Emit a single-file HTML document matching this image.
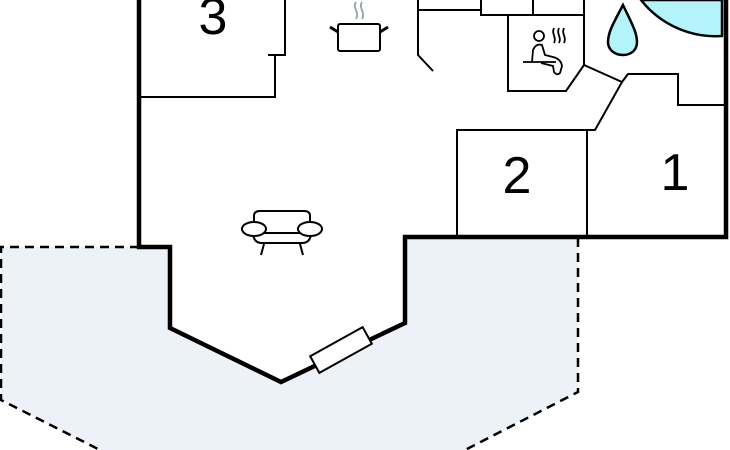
<!DOCTYPE html>
<html><head><style>html,body{margin:0;padding:0;background:#fff}svg{display:block}</style></head>
<body>
<svg width="730" height="450" viewBox="0 0 730 450" xmlns="http://www.w3.org/2000/svg">
<!-- terrace -->
<polygon points="1,247 139,247 170,247 170,328 281,382 405,323 405,237 578,237 578,392 465,450 100,450 1,400" fill="#edf1f8"/>
<polygon points="139,247 170,247 170,328 281,382 405,323 405,237 726,237 726,0 139,0" fill="#fff"/>
<path d="M139,247 L1,247 L1,400 L100,450 M578,238 L578,392 L465,450" fill="none" stroke="#000" stroke-width="2.5" stroke-dasharray="9,6"/>
<!-- pool -->
<path d="M641,0 A95,95 0 0 0 722,36 L722,0 Z" fill="#b3f3fa" stroke="#000" stroke-width="2.5"/>
<path d="M623,5 C614,22 608,32 608,42 C608,50 615,55 623,55 C631,55 637,50 637,42 C637,32 631,22 623,5 Z" fill="#b3f3fa" stroke="#000" stroke-width="2.5"/>
<!-- thin walls -->
<g fill="none" stroke="#000" stroke-width="2">
<path d="M285,0 L285,55 L268,55 M275,55 L275,97 L139,97"/>
<path d="M418,0 L418,55 L433,71"/>
<path d="M418,10 L480,10 M481,0 L481,15 L584,15 M533,0 L533,15 M584,0 L584,65"/>
<path d="M508,15 L508,91 L566,91 L584,65 L622,82 M622,82 L595,130 L457,130 L457,237 M587,130 L587,237"/>
<path d="M622,82 L628,74 L678,74 L678,105 L726,105"/>
</g>
<!-- outer wall -->
<path d="M139,0 L139,247 L170,247 L170,328 L281,382 L405,323 L405,237 L726,237 L726,0" fill="none" stroke="#000" stroke-width="4.5" stroke-linejoin="miter"/>
<!-- window -->
<rect x="-30" y="-9.5" width="60" height="19" transform="translate(341,350) rotate(-29)" fill="#fff" stroke="#000" stroke-width="2"/>
<!-- labels -->
<g font-family="Liberation Sans, sans-serif" font-size="52" fill="#000" text-anchor="middle">
<text x="213" y="34">3</text>
<text x="517" y="193">2</text>
<text x="675" y="190">1</text>
</g>
<!-- pot -->
<g fill="none" stroke="#000" stroke-width="2">
<rect x="338" y="24" width="42" height="27" rx="2"/>
<path d="M338,32 L330,27 M380,32 L388,27" stroke-width="3"/>
</g>
<path d="M356,2 C352,8 360,12 356,19 M362,2 C358,8 366,12 362,19" fill="none" stroke="#8fa3b0" stroke-width="1.8"/>
<!-- sauna -->
<g fill="none" stroke="#000" stroke-width="1.8">
<circle cx="539" cy="36" r="5"/>
<path d="M532,62 L533,50 Q536,43 542,45 L545,55 L553,57 Q561,59 562,66 L560,73 Q557,76 554,72 L553,66 L541,63"/>
<path d="M523,62 L556,62"/>
<path d="M554,28 C551,34 557,37 554,43 M559,28 C556,34 562,37 559,43 M564,28 C561,34 567,37 564,43"/>
</g>
<!-- armchair -->
<g fill="none" stroke="#000" stroke-width="2">
<path d="M254,228 L254,216 Q254,211 260,211 L304,211 Q310,211 310,216 L310,228"/>
<path d="M254,233 L310,233"/>
<path d="M253,232 Q253,243 262,243 L302,243 Q311,243 311,232"/>
<ellipse cx="254" cy="229" rx="12" ry="7" fill="#fff"/>
<ellipse cx="310" cy="229" rx="12" ry="7" fill="#fff"/>
<path d="M264,244 L261,255 M300,244 L303,255"/>
</g>
</svg>
</body></html>
